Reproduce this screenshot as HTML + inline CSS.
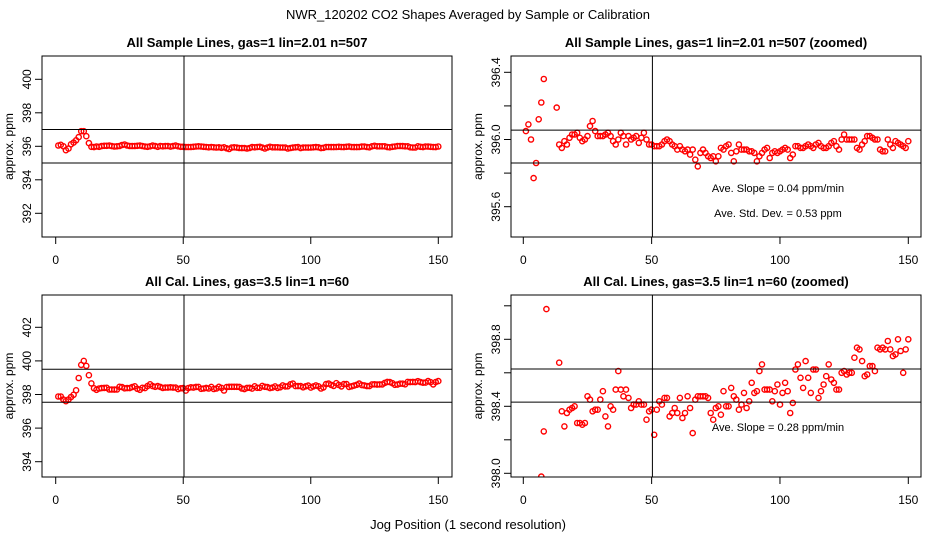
<!DOCTYPE html>
<html><head><meta charset="utf-8"><style>
html,body{margin:0;padding:0;background:#fff;}
svg{display:block;font-family:"Liberation Sans",sans-serif;}
</style></head><body>
<svg id="chart" width="936" height="540" viewBox="0 0 936 540" xmlns="http://www.w3.org/2000/svg">
<rect width="936" height="540" fill="#fff"/>
<text x="468" y="19" text-anchor="middle" font-size="13">NWR_120202  CO2 Shapes Averaged by Sample or Calibration</text>
<text x="468" y="529" text-anchor="middle" font-size="13">Jog Position (1 second resolution)</text>
</svg>
<script>
const positions = Array.from({length:150},(_,i)=>i+1);
const sampleValues = [396.05,396.09,396.00,395.77,395.86,396.12,396.22,396.36,396.55,396.9,396.9,396.6,396.19,395.97,395.95,395.99,395.97,396.01,396.03,396.03,
396.04,396.01,395.99,396.00,396.02,396.08,396.11,396.05,396.02,396.02,396.02,396.03,396.04,396.02,395.99,395.97,396.00,396.04,396.02,395.97,
396.02,396.00,396.01,396.02,395.98,396.01,396.04,396.00,395.97,395.97,395.96,395.96,395.96,395.97,395.99,396.00,395.99,395.97,395.96,395.94,
395.96,395.94,395.93,395.94,395.91,395.94,395.88,395.84,395.92,395.94,395.92,395.90,395.89,395.90,395.87,395.90,395.95,395.94,395.96,395.97,
395.92,395.87,395.93,395.97,395.94,395.94,395.94,395.93,395.93,395.92,395.87,395.90,395.92,395.94,395.95,395.89,395.92,395.93,395.92,395.93,
395.94,395.95,395.94,395.89,395.91,395.96,395.96,395.95,395.95,395.96,395.97,395.96,395.95,395.97,395.98,395.96,395.95,395.95,395.96,395.98,
395.99,395.96,395.94,396.00,396.03,396.00,396.00,396.00,396.00,395.95,395.94,395.97,395.99,396.02,396.02,396.01,396.00,396.00,395.94,395.93,
395.93,396.00,395.97,395.95,395.99,395.98,395.97,395.96,395.95,395.99];
const calValues = [397.88,397.88,397.70,397.60,397.70,397.85,397.98,398.25,398.98,399.76,400.0,399.7,399.15,398.66,398.37,398.28,398.36,398.38,398.39,398.40,
398.30,398.30,398.29,398.30,398.46,398.44,398.37,398.38,398.38,398.44,398.49,398.34,398.28,398.40,398.38,398.50,398.61,398.50,398.46,398.50,
398.45,398.39,398.41,398.41,398.43,398.41,398.41,398.32,398.37,398.38,398.23,398.38,398.43,398.41,398.45,398.45,398.34,398.36,398.39,398.36,
398.45,398.33,398.36,398.46,398.39,398.24,398.44,398.46,398.46,398.46,398.46,398.45,398.36,398.32,398.39,398.40,398.35,398.49,398.40,398.40,
398.51,398.46,398.44,398.38,398.41,398.48,398.39,398.43,398.54,398.48,398.49,398.61,398.65,398.50,398.50,398.50,398.43,398.49,398.53,398.41,
398.48,398.54,398.49,398.36,398.42,398.62,398.65,398.57,398.51,398.67,398.57,398.48,398.62,398.62,398.45,398.49,398.53,398.58,398.65,398.56,
398.54,398.50,398.50,398.60,398.61,398.59,398.60,398.60,398.69,398.75,398.74,398.67,398.58,398.59,398.64,398.64,398.61,398.75,398.74,398.75,
398.74,398.79,398.74,398.70,398.71,398.80,398.73,398.60,398.74,398.80];
const xTicks = [0,50,100,150];
const panelTitles = ["All Sample Lines, gas=1 lin=2.01 n=507","All Sample Lines, gas=1 lin=2.01 n=507 (zoomed)","All Cal. Lines, gas=3.5 lin=1 n=60","All Cal. Lines, gas=3.5 lin=1 n=60 (zoomed)"];
const tlTicks = [392,394,396,398,400], tlLabels = ["392","394","396","398","400"];
const trTicks = [395.6,395.8,396.0,396.2,396.4], trLabels = ["395.6","","396.0","","396.4"];
const blTicks = [394,396,398,400,402], blLabels = ["394","396","398","400","402"];
const brTicks = [398.0,398.2,398.4,398.6,398.8,399.0], brLabels = ["398.0","","398.4","","398.8",""];
const tlRefLines = [397,395], trRefLines = [396.056,395.86], blRefLines = [399.5,397.54], brRefLines = [398.623,398.425];
const vRefLine = 50.3;

const NS="http://www.w3.org/2000/svg";
const svg=document.getElementById('chart');
function mk(tag,attrs,parent){const e=document.createElementNS(NS,tag);for(const k in attrs)e.setAttribute(k,attrs[k]);(parent||svg).appendChild(e);return e;}

function panel(id,box,xr,yr,vals,ticks,labels,refs,title,notes){
  const g=mk('g',{});
  
  
  const xs=v=>xr[0]+(v-xr[1])*(xr[2]-xr[0])/(xr[3]-xr[1]);
  const ys=v=>yr[0]+(v-yr[1])*(yr[2]-yr[0])/(yr[3]-yr[1]);
  const t=mk('text',{x:(box[0]+box[2])/2,y:box[1]-9,'text-anchor':'middle','font-size':'13','font-weight':'bold'},g);
  t.textContent=title;
  
  
  const cp=mk('clipPath',{id:'cp-'+id},g);
  mk('rect',{x:box[0],y:box[1],width:box[2]-box[0],height:box[3]-box[1]},cp);
  const pts=mk('g',{'clip-path':'url(#cp-'+id+')'},g);
  
  
  vals.forEach((v,i)=>{
    const c=mk('circle',{cx:xs(positions[i]).toFixed(1),cy:ys(v).toFixed(1),r:2.6,fill:'none',stroke:'#f00','stroke-width':1.4},pts);
    
    
  });
  refs.forEach(r=>{
    const l=mk('line',{x1:box[0],x2:box[2],y1:ys(r),y2:ys(r),stroke:'#000','stroke-width':1},g);
    
    
  });
  const vl=mk('line',{x1:xs(vRefLine),x2:xs(vRefLine),y1:box[1],y2:box[3],stroke:'#000','stroke-width':1},g);
  
  
  const fr=mk('rect',{x:box[0],y:box[1],width:box[2]-box[0],height:box[3]-box[1],fill:'none',stroke:'#000','stroke-width':1},g);
  
  
  xTicks.forEach(v=>{
    const x=xs(v);
    mk('line',{x1:x,x2:x,y1:box[3],y2:box[3]+7,stroke:'#000'},g);
    const tx=mk('text',{x:x,y:box[3]+27,'text-anchor':'middle','font-size':'12'},g);
    tx.textContent=v;
    
    
  });
  ticks.forEach((v,i)=>{
    const y=ys(v);
    mk('line',{x1:box[0]-7,x2:box[0],y1:y,y2:y,stroke:'#000'},g);
    if(labels[i]){
      const ty=mk('text',{x:0,y:0,'text-anchor':'middle','font-size':'12',transform:`translate(${box[0]-11},${y}) rotate(-90)`},g);
      ty.textContent=labels[i];
      
      
    }
  });
  const yl=mk('text',{x:0,y:0,'text-anchor':'middle','font-size':'12',transform:`translate(${box[0]-29},${(box[1]+box[3])/2}) rotate(-90)`},g);
  yl.textContent='approx. ppm';
  
  
  notes.forEach(n=>{
    const nt=mk('text',{x:n[0],y:n[1],'text-anchor':'middle','font-size':'11'},g);
    nt.textContent=n[2];
    
    
  });
}
panel('sample',[42,56,452,237],[55.7,0,438.3,150],[146.3,396,79.3,400],sampleValues,tlTicks,tlLabels,tlRefLines,panelTitles[0],[]);
panel('sample-zoomed',[511,56,921,237],[523.3,0,908.3,150],[139.5,396.0,72.3,396.4],sampleValues,trTicks,trLabels,trRefLines,panelTitles[1],[[778,192,'Ave. Slope =  0.04  ppm/min'],[778,217,'Ave. Std. Dev. =  0.53  ppm']]);
panel('cal',[42,295,452,477],[55.7,0,438.3,150],[394.5,398,327.3,402],calValues,blTicks,blLabels,blRefLines,panelTitles[2],[]);
panel('cal-zoomed',[511,295,921,477],[523.3,0,908.3,150],[473.3,398.0,339.3,398.8],calValues,brTicks,brLabels,brRefLines,panelTitles[3],[[778,431,'Ave. Slope =  0.28  ppm/min']]);
</script>
</body></html>
